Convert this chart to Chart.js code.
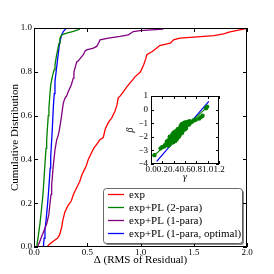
<!DOCTYPE html>
<html><head><meta charset="utf-8">
<script src="https://cdn.jsdelivr.net/npm/chart.js@4.4.1/dist/chart.umd.min.js"></script>
<style>
html,body{margin:0;padding:0;background:#fff;}
#wrap{position:relative;width:274px;height:274px;overflow:hidden;}
#main{position:absolute;left:0;top:0;}
#inset{position:absolute;left:120px;top:85px;}
</style></head><body>
<div id="wrap"><canvas id="main" width="274" height="274"></canvas><canvas id="inset" width="105" height="100"></canvas></div>
<script>
// ---------- data ----------
const seriesLabels = ["exp", "exp+PL (2-para)", "exp+PL (1-para)", "exp+PL (1-para, optimal)"];
const seriesColors = ["#ff0000", "#008000", "#800080", "#0000ff"];

const expX = [0.12,0.15,0.19,0.22,0.24,0.26,0.27,0.29,0.32,0.35,0.37,0.39,0.41,0.43,0.45,0.47,0.49,0.51,0.54,0.56,0.59,0.62,0.65,0.67,0.70,0.73,0.76,0.78,0.79,0.81,0.84,0.87,0.90,0.93,0.95,0.97,1.00,1.03,1.05,1.06,1.11,1.15,1.18,1.25,1.28,1.31,1.37,1.50,1.69,1.78,1.84,1.92,1.99];
const expY = [0.00,0.015,0.03,0.04,0.055,0.09,0.12,0.16,0.19,0.21,0.24,0.26,0.28,0.30,0.33,0.35,0.37,0.40,0.43,0.45,0.47,0.49,0.50,0.54,0.57,0.59,0.62,0.65,0.68,0.69,0.71,0.73,0.748,0.765,0.778,0.786,0.80,0.832,0.86,0.878,0.893,0.908,0.92,0.928,0.931,0.946,0.954,0.958,0.965,0.973,0.982,0.99,0.997];

const pl2X = [0.025,0.04,0.056,0.07,0.082,0.09,0.103,0.113,0.119,0.125,0.134,0.14,0.15,0.157,0.176,0.19,0.197,0.21,0.219,0.235,0.244,0.26,0.307,0.37,0.43];
const pl2Y = [0.00,0.05,0.107,0.17,0.229,0.28,0.382,0.45,0.489,0.534,0.60,0.634,0.70,0.74,0.786,0.81,0.832,0.87,0.893,0.93,0.954,0.969,0.977,0.985,0.995];

const pl1X = [0.03,0.05,0.07,0.09,0.12,0.14,0.15,0.16,0.166,0.18,0.197,0.213,0.228,0.238,0.25,0.26,0.275,0.291,0.307,0.322,0.35,0.369,0.375,0.385,0.401,0.417,0.44,0.463,0.48,0.495,0.557,0.589,0.61,0.62,0.698,0.808,0.886,0.933,0.996,1.215];
const pl1Y = [0.00,0.02,0.046,0.07,0.107,0.15,0.199,0.24,0.283,0.366,0.443,0.489,0.511,0.534,0.57,0.603,0.657,0.68,0.69,0.71,0.74,0.771,0.80,0.817,0.845,0.85,0.865,0.878,0.895,0.90,0.908,0.916,0.935,0.946,0.954,0.962,0.969,0.984,0.988,0.995];

const optX = [0.088,0.095,0.103,0.115,0.125,0.135,0.144,0.152,0.157,0.166,0.172,0.181,0.19,0.197,0.21,0.219,0.23,0.238,0.25,0.26,0.275,0.30];
const optY = [0.00,0.04,0.076,0.13,0.183,0.24,0.305,0.36,0.412,0.489,0.54,0.634,0.70,0.755,0.81,0.847,0.89,0.924,0.95,0.969,0.984,0.997];

const mainXTicks = [0, 0.5, 1.0, 1.5, 2.0];
const mainYTicks = [0, 0.2, 0.4, 0.6, 0.8, 1.0];

// inset: gamma vs beta
const gammaPts = [0.06,0.17,0.20,0.23,0.25,0.27,0.28,0.30,0.30,0.31,0.32,0.33,0.33,0.34,0.34,0.35,0.35,0.36,0.36,0.37,0.37,0.38,0.38,0.39,0.39,0.40,0.40,0.40,0.41,0.41,0.42,0.42,0.43,0.43,0.43,0.44,0.44,0.44,0.45,0.45,0.46,0.46,0.46,0.47,0.47,0.48,0.48,0.49,0.49,0.50,0.50,0.50,0.51,0.51,0.52,0.52,0.52,0.53,0.53,0.54,0.54,0.55,0.55,0.55,0.56,0.56,0.57,0.57,0.58,0.58,0.58,0.59,0.60,0.60,0.60,0.61,0.62,0.62,0.63,0.63,0.64,0.65,0.66,0.67,0.68,0.70,0.72,0.75,0.79,0.85,0.88,0.91,0.97,0.99];
const betaPts  = [-3.35,-2.85,-2.75,-2.72,-2.6,-2.55,-2.35,-2.45,-2.65,-2.25,-2.6,-2.35,-2.0,-2.1,-2.5,-2.45,-2.2,-2.0,-2.25,-2.3,-1.95,-2.15,-1.8,-2.4,-1.85,-2.05,-2.35,-1.7,-2.25,-1.9,-1.75,-2.1,-1.95,-2.3,-1.6,-2.2,-1.7,-1.95,-1.85,-2.0,-1.6,-1.95,-2.15,-1.75,-1.45,-1.5,-1.9,-1.65,-2.0,-1.8,-1.4,-1.6,-1.55,-1.85,-1.7,-1.3,-1.45,-1.5,-1.15,-1.2,-1.6,-1.35,-1.7,-1.05,-1.45,-1.1,-1.25,-1.5,-1.0,-1.4,-1.2,-1.15,-1.3,-0.95,-1.45,-1.05,-1.2,-1.35,-0.95,-1.1,-1.1,-0.9,-1.0,-1.1,-0.85,-0.95,-0.9,-0.8,-0.75,-0.65,-0.55,-0.45,0.1,0.22];
const greenFitX = [0.05, 1.0];
const greenFitY = [-3.4, 0.22];
const blueFitX = [0.1, 1.02];
const blueFitY = [-3.8, 0.6];
const insetXTicks = [0, 0.2, 0.4, 0.6, 0.8, 1.0, 1.2];
const insetYTicks = [-4, -3, -2, -1, 0, 1];

// ---------- helpers ----------
const zip = (xs, ys) => xs.map((v, i) => ({x: v, y: ys[i]}));
const SERIF = "'Liberation Serif', 'DejaVu Serif', serif";

const frameTicks = {
  id: 'frameTicks',
  afterDraw(chart, args, opts) {
    const {ctx, chartArea: a, scales: {x, y}} = chart;
    const L = opts.len || 4;
    ctx.save();
    ctx.strokeStyle = '#000';
    ctx.lineWidth = 1;
    ctx.beginPath();
    x.ticks.forEach(t => {
      const px = Math.round(x.getPixelForValue(t.value)) + 0.5;
      ctx.moveTo(px, a.bottom); ctx.lineTo(px, a.bottom - L);
      ctx.moveTo(px, a.top); ctx.lineTo(px, a.top + L);
    });
    y.ticks.forEach(t => {
      const py = Math.round(y.getPixelForValue(t.value)) + 0.5;
      ctx.moveTo(a.left, py); ctx.lineTo(a.left + L, py);
      ctx.moveTo(a.right, py); ctx.lineTo(a.right - L, py);
    });
    ctx.stroke();
    ctx.strokeRect(Math.round(a.left) + 0.5, Math.round(a.top) + 0.5, Math.round(a.width) - 1, Math.round(a.height) - 1);
    ctx.restore();
  }
};

const boxLegend = {
  id: 'boxLegend',
  afterDraw(chart) {
    const {ctx} = chart;
    const bx = 103, by = 188, bw = 139, bh = 55, r = 3;
    ctx.save();
    const rr = (x, y, w, h) => {
      ctx.beginPath();
      ctx.moveTo(x + r, y); ctx.lineTo(x + w - r, y); ctx.arcTo(x + w, y, x + w, y + r, r);
      ctx.lineTo(x + w, y + h - r); ctx.arcTo(x + w, y + h, x + w - r, y + h, r);
      ctx.lineTo(x + r, y + h); ctx.arcTo(x, y + h, x, y + h - r, r);
      ctx.lineTo(x, y + r); ctx.arcTo(x, y, x + r, y, r); ctx.closePath();
    };
    rr(bx + 2, by + 2, bw, bh); ctx.fillStyle = 'rgba(0,0,0,0.45)'; ctx.fill();
    rr(bx + 0.5, by + 0.5, bw, bh); ctx.fillStyle = '#fff'; ctx.fill();
    ctx.strokeStyle = '#444'; ctx.lineWidth = 0.8; ctx.stroke();
    ctx.font = "11px " + SERIF;
    ctx.textBaseline = 'middle';
    ctx.fillStyle = '#000';
    chart.data.datasets.forEach((ds, i) => {
      const yy = by + 6.5 + i * 13;
      ctx.strokeStyle = ds.borderColor; ctx.lineWidth = 1.3;
      ctx.beginPath(); ctx.moveTo(bx + 5, yy); ctx.lineTo(bx + 21, yy); ctx.stroke();
      ctx.fillText(ds.label, bx + 26, yy + 0.5);
    });
    ctx.restore();
  }
};

const lineDs = (label, color, xs, ys) => ({
  label, data: zip(xs, ys), borderColor: color, backgroundColor: color,
  borderWidth: 1.3, pointRadius: 0, tension: 0, fill: false
});

new Chart(document.getElementById('main'), {
  type: 'line',
  data: {
    datasets: [
      lineDs(seriesLabels[0], seriesColors[0], expX, expY),
      lineDs(seriesLabels[1], seriesColors[1], pl2X, pl2Y),
      lineDs(seriesLabels[2], seriesColors[2], pl1X, pl1Y),
      lineDs(seriesLabels[3], seriesColors[3], optX, optY)
    ]
  },
  options: {
    responsive: false, animation: false, devicePixelRatio: 1,
    layout: {padding: {top: 28, right: 27, left: 0, bottom: 0}},
    plugins: {legend: {display: false}, tooltip: {enabled: false}, frameTicks: {len: 4}},
    scales: {
      x: {
        type: 'linear', min: 0, max: 2,
        afterBuildTicks: s => { s.ticks = mainXTicks.map(v => ({value: v})); },
        afterFit: s => { s.height = 27; },
        grid: {display: false, drawTicks: false},
        border: {display: false},
        ticks: {color: '#000', font: {family: SERIF, size: 9}, padding: 0, maxRotation: 0, autoSkip: false,
                callback: v => Number(v).toFixed(1)},
        title: {display: true, text: 'Δ (RMS of Residual)', color: '#000', font: {family: SERIF, size: 11}, padding: {top: 0, bottom: 7}}
      },
      y: {
        type: 'linear', min: 0, max: 1,
        afterBuildTicks: s => { s.ticks = mainYTicks.map(v => ({value: v})); },
        afterFit: s => { s.width = 34; },
        grid: {display: false, drawTicks: false},
        border: {display: false},
        ticks: {color: '#000', font: {family: SERIF, size: 9}, padding: 2, autoSkip: false,
                callback: v => Number(v).toFixed(1)},
        title: {display: true, text: 'Cumulative Distribution', color: '#000', font: {family: SERIF, size: 11}, padding: {top: 9, bottom: 0}}
      }
    }
  },
  plugins: [frameTicks, boxLegend]
});

new Chart(document.getElementById('inset'), {
  type: 'scatter',
  data: {
    datasets: [
      {label: 'data', data: zip(gammaPts, betaPts), backgroundColor: '#008000', borderColor: '#008000', pointRadius: 2.2, borderWidth: 0},
      {label: 'fit', data: zip(greenFitX, greenFitY), showLine: true, borderColor: '#008000', borderWidth: 1.2, pointRadius: 0},
      {label: 'optimal', data: zip(blueFitX, blueFitY), showLine: true, borderColor: '#0000ff', borderWidth: 1.2, pointRadius: 0}
    ]
  },
  options: {
    responsive: false, animation: false, devicePixelRatio: 1,
    layout: {padding: {top: 11, right: 6, left: 0, bottom: 0}},
    plugins: {legend: {display: false}, tooltip: {enabled: false}, frameTicks: {len: 3}},
    scales: {
      x: {
        type: 'linear', min: 0, max: 1.2,
        afterBuildTicks: s => { s.ticks = insetXTicks.map(v => ({value: v})); },
        afterFit: s => { s.height = 21; },
        grid: {display: false, drawTicks: false},
        border: {display: false},
        ticks: {color: '#000', font: {family: SERIF, size: 9}, padding: 0, maxRotation: 0, autoSkip: false,
                callback: v => Number(v).toFixed(1)},
        title: {display: true, text: 'γ', color: '#000', font: {family: SERIF, size: 10, style: 'italic'}, padding: {top: 0, bottom: 2}}
      },
      y: {
        type: 'linear', min: -4, max: 1,
        afterBuildTicks: s => { s.ticks = insetYTicks.map(v => ({value: v})); },
        afterFit: s => { s.width = 31; },
        grid: {display: false, drawTicks: false},
        border: {display: false},
        ticks: {color: '#000', font: {family: SERIF, size: 9}, padding: 3, autoSkip: false,
                callback: v => String(v).replace('-', '−')},
        title: {display: true, text: 'β', color: '#000', font: {family: SERIF, size: 10, style: 'italic'}, padding: {top: 4, bottom: 0}}
      }
    }
  },
  plugins: [frameTicks]
});
</script>
</body></html>
